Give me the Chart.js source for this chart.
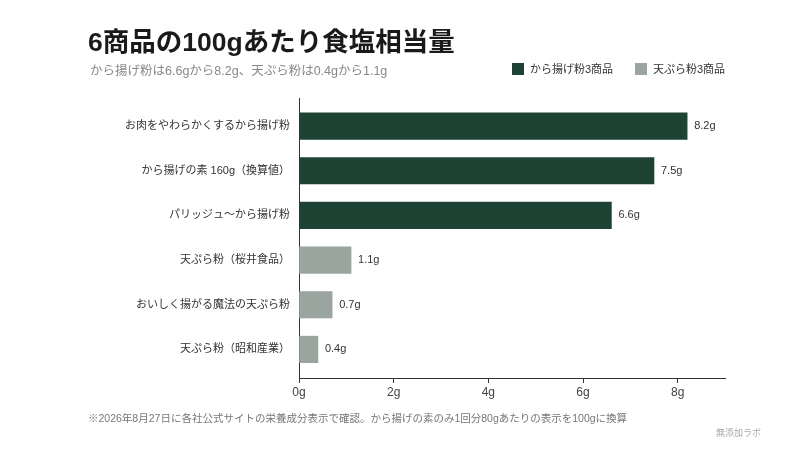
<!DOCTYPE html>
<html lang="ja">
<head>
<meta charset="utf-8">
<script src="https://cdn.jsdelivr.net/npm/chart.js@4"></script>
<style>
  html, body { margin: 0; padding: 0; background: #fff; }
  body { width: 800px; height: 450px; position: relative; overflow: hidden;
         font-family: "Liberation Sans", "Noto Sans CJK JP", sans-serif; }
  #wrap { position: absolute; left: 0; top: 0; width: 800px; height: 450px; }
  .txt { position: absolute; white-space: nowrap; }
  #title { left: 88px; top: 29px; font-size: 26.5px; line-height: 26px; font-weight: bold; color: #1a1a1a; }
  #subtitle { left: 90px; top: 64px; font-size: 12.5px; line-height: 14px; color: #888; }
  .legend { top: 62px; font-size: 11px; line-height: 14px; color: #333; }
  .legend i { display: inline-block; width: 12px; height: 12px; vertical-align: -2px; margin-right: 6px; }
  #note { left: 88px; top: 412px; font-size: 10.5px; line-height: 12px; color: #777; }
  #credit { left: 716px; top: 428px; font-size: 9px; line-height: 10px; color: #aaa; }
</style>
</head>
<body>
<div id="wrap"><canvas id="saltChart" width="800" height="450"></canvas></div>
<div class="txt" id="title">6商品の100gあたり食塩相当量</div>
<div class="txt" id="subtitle">から揚げ粉は6.6gから8.2g、天ぷら粉は0.4gから1.1g</div>
<div class="txt legend" style="left:512px"><i style="background:#1e4233"></i>から揚げ粉3商品</div>
<div class="txt legend" style="left:635px"><i style="background:#9aa5a0"></i>天ぷら粉3商品</div>
<div class="txt" id="note">※2026年8月27日に各社公式サイトの栄養成分表示で確認。から揚げの素のみ1回分80gあたりの表示を100gに換算</div>
<div class="txt" id="credit">無添加ラボ</div>
<script>
// products, top to bottom
const products = [
    'お肉をやわらかくするから揚げ粉',
    'から揚げの素 160g（換算値）',
    'パリッジュ〜から揚げ粉',
    '天ぷら粉（桜井食品）',
    'おいしく揚がる魔法の天ぷら粉',
    '天ぷら粉（昭和産業）'
];
const saltGrams = [8.2, 7.5, 6.6, 1.1, 0.7, 0.4];
const groups = ['karaage', 'karaage', 'karaage', 'tempura', 'tempura', 'tempura'];
const xTicks = [0, 2, 4, 6, 8];

const groupColors = { karaage: '#1e4233', tempura: '#9aa5a0' };
const fontFamily = '"Liberation Sans", "Noto Sans CJK JP", sans-serif';

// write "8.2g" etc. just right of each bar
const valueLabels = {
    id: 'valueLabels',
    afterDatasetsDraw(chart) {
        const ctx = chart.ctx;
        const meta = chart.getDatasetMeta(0);
        ctx.save();
        ctx.font = '11px ' + fontFamily;
        ctx.fillStyle = '#333';
        ctx.textAlign = 'left';
        ctx.textBaseline = 'middle';
        meta.data.forEach((bar, i) => {
            ctx.fillText(saltGrams[i].toFixed(1) + 'g', bar.x + 7, bar.y);
        });
        ctx.restore();
    }
};

const ctx = document.getElementById('saltChart').getContext('2d');
const saltChart = new Chart(ctx, {
    type: 'bar',
    data: {
        datasets: [{
            data: saltGrams.map((v, i) => ({ x: v, y: i })),
            backgroundColor: groups.map(g => groupColors[g]),
            barThickness: 26.5,
            borderWidth: 0
        }]
    },
    options: {
        indexAxis: 'y',
        responsive: false,
        animation: false,
        layout: { padding: { top: 98, right: 75, bottom: 42, left: 0 } },
        plugins: {
            legend: { display: false },
            tooltip: { enabled: false }
        },
        scales: {
            x: {
                type: 'linear',
                min: 0,
                max: 9,
                afterBuildTicks: s => { s.ticks = xTicks.map(v => ({ value: v })); },
                afterFit: s => { s.height = 30; },
                grid: { drawOnChartArea: false, drawTicks: true, tickLength: 5, color: '#333' },
                border: { color: '#333', width: 1 },
                ticks: {
                    padding: 2,
                    color: '#444',
                    font: { family: fontFamily, size: 12 },
                    callback: v => v + 'g'
                }
            },
            y: {
                type: 'linear',
                reverse: true,
                offset: false,
                min: -0.63,
                max: 5.64,
                afterBuildTicks: s => { s.ticks = products.map((p, i) => ({ value: i })); },
                afterFit: s => { s.width = 299; },
                grid: { display: false, drawTicks: false, offset: false },
                border: { color: '#333', width: 1 },
                ticks: {
                    padding: 9,
                    color: '#333',
                    font: { family: fontFamily, size: 11 },
                    callback: v => products[v]
                }
            }
        }
    },
    plugins: [valueLabels]
});
</script>
</body>
</html>
